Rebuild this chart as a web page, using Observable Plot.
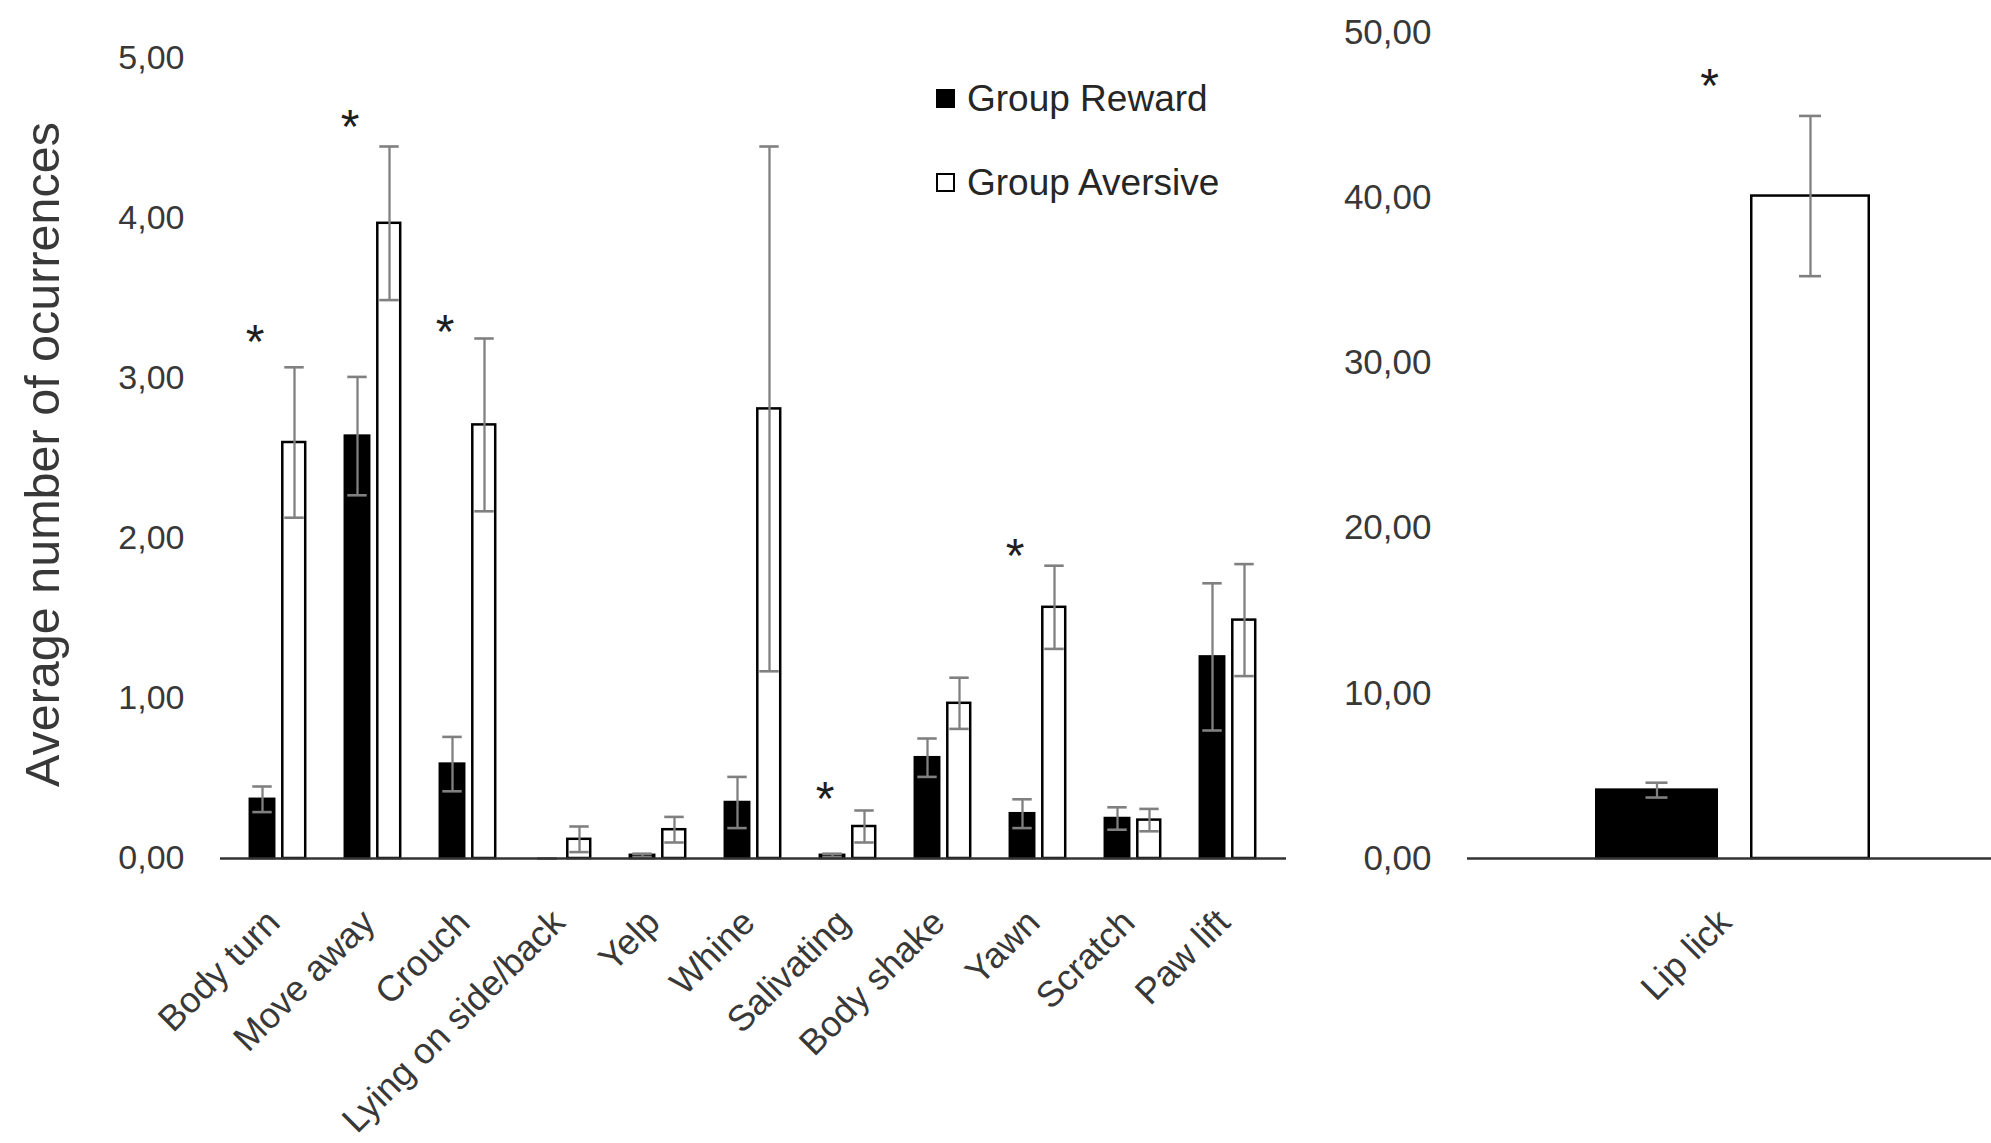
<!DOCTYPE html>
<html>
<head>
<meta charset="utf-8">
<script src="https://cdn.jsdelivr.net/npm/d3@7"></script>
<script src="https://cdn.jsdelivr.net/npm/@observablehq/plot@0.6"></script>
<style>
  html, body { margin: 0; padding: 0; background: #fff; }
  #root { position: relative; width: 1991px; height: 1143px; overflow: hidden; font-family: "Liberation Sans", Arial, sans-serif; }
  #left { position: absolute; left: 0; top: 0; }
  #right { position: absolute; left: 1330px; top: 0; }
  .leg { position: absolute; display: flex; align-items: center; font-size: 37px; color: #262626; line-height: 1; }
  .sw { width: 15px; height: 15px; border: 2px solid #000; margin-right: 12px; box-sizing: content-box; }
</style>
</head>
<body>
<div id="root">
  <div id="left"></div>
  <div id="right"></div>
  <div class="leg" style="left:936px; top:79.5px;"><div class="sw" style="background:#000"></div><span>Group Reward</span></div>
  <div class="leg" style="left:936px; top:163.5px;"><div class="sw" style="background:#fff"></div><span>Group Aversive</span></div>
</div>
<script>
// ---------- data ----------
const categories = ["Body turn", "Move away", "Crouch", "Lying on side/back", "Yelp", "Whine", "Salivating", "Body shake", "Yawn", "Scratch", "Paw lift"];
const reward     = [0.37, 2.64, 0.59, 0.00, 0.02, 0.35, 0.02, 0.63, 0.28, 0.25, 1.26];
const rewardSE   = [0.08, 0.37, 0.17, 0.00, 0.01, 0.16, 0.01, 0.12, 0.09, 0.07, 0.46];
const aversive   = [2.60, 3.97, 2.71, 0.12, 0.18, 2.81, 0.20, 0.97, 1.57, 0.24, 1.49];
const aversiveSE = [0.47, 0.48, 0.54, 0.08, 0.08, 1.64, 0.10, 0.16, 0.26, 0.07, 0.35];
// significance marker (*) and the height (in y units) at which it is printed
const significant = [true, true, true, false, false, false, true, false, true, false, false];
const starLevel   = [3.27, 4.61, 3.33, null, null, null, 0.41, null, 1.93, null, null];

const lipCategories = ["Lip lick"];
const lipReward     = [4.14];
const lipRewardSE   = [0.45];
const lipAversive   = [40.1];
const lipAversiveSE = [4.85];
const lipSignificant = [true];
const lipStarLevel   = [47.15];

const leftTicks  = [0, 1, 2, 3, 4, 5];
const rightTicks = [0, 10, 20, 30, 40, 50];
const yLabel = "Average number of ocurrences";

// ---------- helpers ----------
const FONT = '"Liberation Sans", Arial, sans-serif';
const fmt = d => d.toFixed(2).replace(".", ",");
const TXT = "#383838";
const ERR = "#808080";

function rowsOf(cats, r, rse, a, ase, sig, lvl) {
  return cats.map((c, i) => ({cat: c, reward: r[i], rSE: rse[i], aversive: a[i], aSE: ase[i], sig: sig[i], star: lvl[i]}));
}
// inset helper: place a span [from, to] (px, relative to band center) within a band of width bw
const ins = (bw, from, to) => ({insetLeft: bw / 2 + from, insetRight: bw / 2 - to});

function panel({rows, width, marginLeft, marginRight, marginTop, range, yDomain, ticks, tickFont,
                bw, rBar, aBar, rCenter, aCenter, capW, starDx, withYLabel}) {
  const marks = [
    Plot.axisY({ticks, tickFormat: fmt, tickSize: 0, tickPadding: 36, fontSize: tickFont, color: TXT, label: null}),
    Plot.barY(rows, {x: "cat", y: "reward", fill: "#000", stroke: "#000", strokeWidth: 2.5, ...ins(bw, rBar[0], rBar[1])}),
    Plot.barY(rows, {x: "cat", y: "aversive", fill: "#fff", stroke: "#000", strokeWidth: 2.5, ...ins(bw, aBar[0], aBar[1])}),
    // error bars: reward
    Plot.ruleX(rows, {x: "cat", y1: d => d.reward - d.rSE, y2: d => d.reward + d.rSE, dx: rCenter, stroke: ERR, strokeWidth: 2.3}),
    Plot.tickY(rows, {x: "cat", y: d => d.reward + d.rSE, stroke: ERR, strokeWidth: 2.6, ...ins(bw, rCenter - capW / 2, rCenter + capW / 2)}),
    Plot.tickY(rows, {x: "cat", y: d => d.reward - d.rSE, stroke: ERR, strokeWidth: 2.6, ...ins(bw, rCenter - capW / 2, rCenter + capW / 2)}),
    // error bars: aversive
    Plot.ruleX(rows, {x: "cat", y1: d => d.aversive - d.aSE, y2: d => d.aversive + d.aSE, dx: aCenter, stroke: ERR, strokeWidth: 2.3}),
    Plot.tickY(rows, {x: "cat", y: d => d.aversive + d.aSE, stroke: ERR, strokeWidth: 2.6, ...ins(bw, aCenter - capW / 2, aCenter + capW / 2)}),
    Plot.tickY(rows, {x: "cat", y: d => d.aversive - d.aSE, stroke: ERR, strokeWidth: 2.6, ...ins(bw, aCenter - capW / 2, aCenter + capW / 2)}),
    Plot.ruleY([0], {stroke: "#333", strokeWidth: 2.5}),
    // significance stars
    Plot.text(rows.filter(d => d.sig), {x: "cat", y: "star", text: () => "*",
      dx: starDx, dy: 7, fontSize: 48, fill: "#1e1e1e"}),
    // rotated category labels
    Plot.text(rows, {x: "cat", y: () => 0, text: "cat", rotate: -45, textAnchor: "end", lineAnchor: "bottom",
      dx: 4, dy: 66, fontSize: 36, fill: TXT})
  ];
  if (withYLabel) {
    marks.push(Plot.text([yLabel], {frameAnchor: "left", text: d => d, rotate: -90, textAnchor: "middle", lineAnchor: "bottom",
      dx: -162, dy: -4, fontSize: 48.5, fill: TXT}));
  }
  return Plot.plot({
    width, height: 1143, marginLeft, marginRight, marginTop, marginBottom: 285,
    style: {fontFamily: FONT, background: "transparent", overflow: "visible"},
    x: {domain: rows.map(d => d.cat), range, padding: 0, axis: null},
    y: {domain: yDomain, axis: null},
    marks
  });
}

// left panel: 11 behaviours
const leftBand = (1278.3 - 226.9) / categories.length;
document.getElementById("left").append(panel({
  rows: rowsOf(categories, reward, rewardSE, aversive, aversiveSE, significant, starLevel),
  width: 1330, marginLeft: 220, marginRight: 44, marginTop: 58,
  range: [226.9, 1278.3], yDomain: [0, 5], ticks: leftTicks, tickFont: 34,
  bw: leftBand, rBar: [-28, -3], aBar: [4.5, 28], rCenter: -15.5, aCenter: 16.5, capW: 20,
  starDx: -23, withYLabel: true
}));

// right panel: lip lick
document.getElementById("right").append(panel({
  rows: rowsOf(lipCategories, lipReward, lipRewardSE, lipAversive, lipAversiveSE, lipSignificant, lipStarLevel),
  width: 661, marginLeft: 137, marginRight: 0, marginTop: 32,
  range: [137, 661], yDomain: [0, 50], ticks: rightTicks, tickFont: 35,
  bw: 524, rBar: [-132.75, -12.25], aBar: [22.25, 139.75], rCenter: -72.5, aCenter: 81, capW: 22,
  starDx: -20, withYLabel: false
}));
</script>
</body>
</html>
